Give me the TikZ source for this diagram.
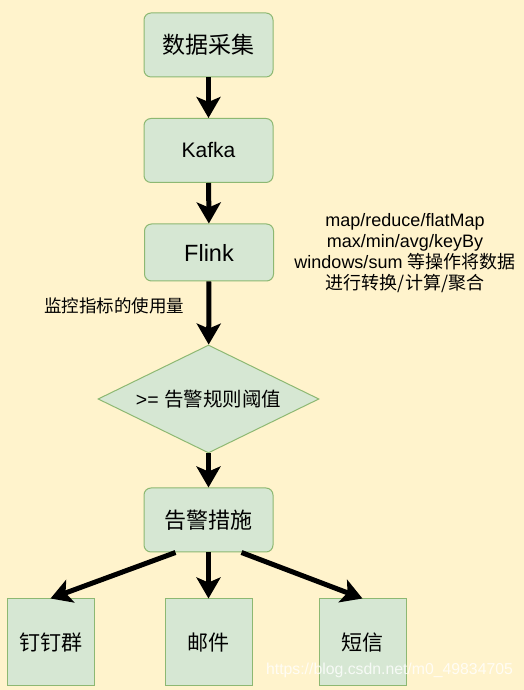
\documentclass[tikz,border=0pt]{standalone}
\usepackage{fontspec}
\setmainfont{Liberation Sans}
\newfontfamily\cjk{Noto Sans CJK SC}
\usepackage{tikz}
\usetikzlibrary{shapes.geometric}
\usetikzlibrary{positioning}
\usetikzlibrary{calc}
\usetikzlibrary{arrows.meta}

\definecolor{bgyellow}{HTML}{FFF3CC}
\definecolor{boxfill}{HTML}{D6E7D3}
\definecolor{boxline}{HTML}{8DB872}

\tikzset{
  stepbox/.style={draw=boxline, fill=boxfill, line width=1pt, rounded corners=7pt,
    minimum width=129pt, minimum height=64pt, inner sep=0pt},
  squarebox/.style={draw=boxline, fill=boxfill, line width=1pt,
    minimum width=87pt, minimum height=87pt, inner sep=0pt,
    font=\fontsize{21}{25}\selectfont\cjk},
  rulebox/.style={draw=boxline, fill=boxfill, line width=1pt, diamond, aspect=2.05,
    minimum width=221pt, minimum height=108pt, inner sep=0pt},
  flow/.style={line width=5pt, -{Stealth[length=21pt, width=24pt, inset=5pt]}},
  note/.style={align=center, font=\fontsize{18}{21}\selectfont}
}

\begin{document}
\begin{tikzpicture}[x=1pt, y=1pt]
    \fill[bgyellow] (0,0) rectangle (524,690);
    \useasboundingbox (0,0) rectangle (524,690);

    \node[stepbox] (collect) at (208.5, 645) {\fontsize{23}{27}\selectfont\cjk 数据采集};
    \node[stepbox] (kafka) at (208.5, 539.5) {\fontsize{21}{25}\selectfont Kafka};
    \node[stepbox, minimum height=57pt] (flink) at (209, 437.5) {\fontsize{23.5}{27}\selectfont Flink};
    \node[rulebox] (rule) at (208.5, 291) {\fontsize{19.5}{23}\selectfont >= {\cjk 告警规则阈值}};
    \node[stepbox] (alarm) at (208.5, 170) {\fontsize{22}{26}\selectfont\cjk 告警措施};

    \node[squarebox] (dingding) at (50.5, 47.5) {钉钉群};
    \node[squarebox] (mail) at (208.5, 47.5) {邮件};
    \node[squarebox] (sms) at (362.5, 47.5) {短信};

    \node[note] (ops) at (405, 437) {map/reduce/flatMap\\ max/min/avg/keyBy\\
      windows/sum {\cjk 等操作将数据}\\ {\cjk 进行转换/计算/聚合}};
    \node[note, font=\fontsize{17.5}{21}\selectfont\cjk] (usage) at (114, 384) {监控指标的使用量};

    \draw[flow] (collect) -- (kafka);
    \draw[flow] (kafka) -- (flink);
    \draw[flow] (flink) -- (rule);
    \draw[flow] (rule) -- (alarm);
    \draw[flow] ($(alarm.south)+(-33,0)$) -- (dingding.north);
    \draw[flow] (alarm) -- (mail);
    \draw[flow] ($(alarm.south)+(33,0)$) -- (sms.north);

    \node[text=white, opacity=0.8, font=\fontsize{15.8}{18}\selectfont] (mark) at (389.5, 20) {https://blog.csdn.net/m0\_49834705};
\end{tikzpicture}
\end{document}
